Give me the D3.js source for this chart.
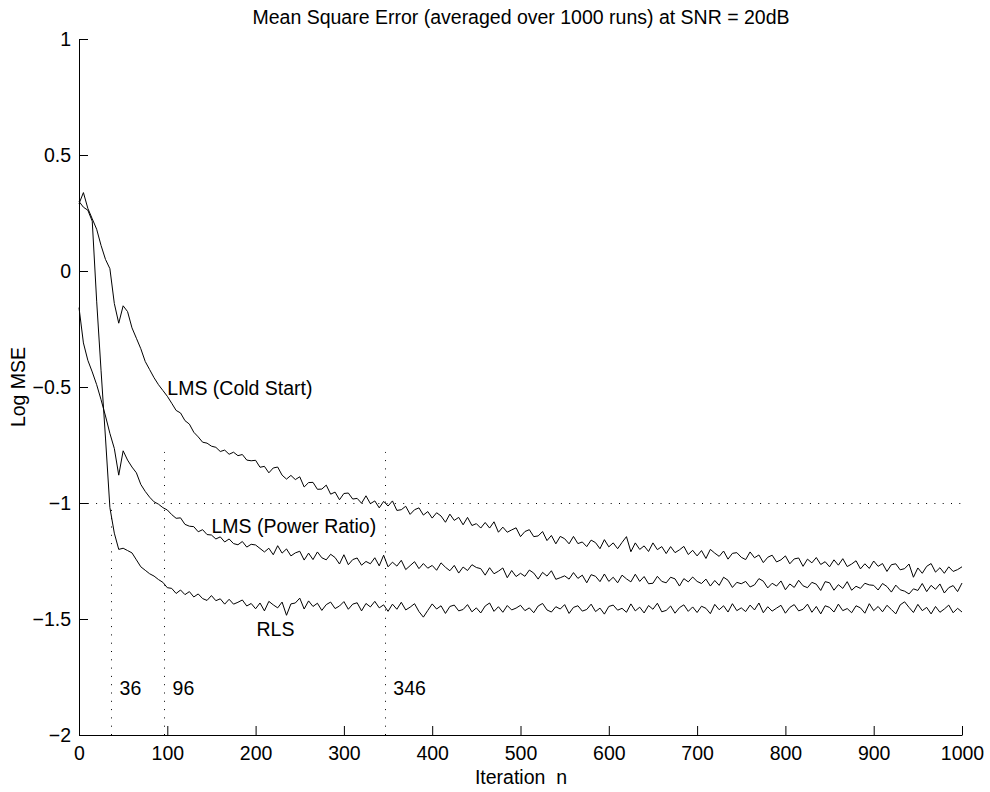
<!DOCTYPE html>
<html>
<head>
<meta charset="utf-8">
<script src="https://cdn.jsdelivr.net/npm/d3@7"></script>
<style>
	body { margin: 0; background: #fff; }
	svg { display: block; font-family: "Liberation Sans", Arial, Helvetica, sans-serif; }
	.axis path, .axis line { stroke: #000; stroke-width: 1; }
	.axis text { font-family: "Liberation Sans", Arial, Helvetica, sans-serif; font-size: 19.5px; fill: #000; }
	.curve { fill: none; stroke: #000; stroke-width: 1; stroke-linejoin: round; }
	.guide { stroke: #000; stroke-width: 1; stroke-dasharray: 1 7.3; }
	.label { font-size: 19.5px; fill: #000; }
</style>
</head>
<body>
<div id="chart"></div>
<script>
//Iteration grid: every 5th iteration, 0..1000
const iterations = d3.range(0, 1001, 5);

//Log MSE, one value per grid point
const mseLmsCold = [
	0.290, 0.338, 0.270, 0.225, 0.180, 0.110, 0.050, 0.010, -0.140, -0.225,
	-0.150, -0.175, -0.245, -0.290, -0.335, -0.390, -0.425, -0.460, -0.490, -0.515,
	-0.540, -0.570, -0.601, -0.612, -0.645, -0.660, -0.695, -0.715, -0.738, -0.742,
	-0.755, -0.760, -0.778, -0.772, -0.790, -0.781, -0.796, -0.791, -0.815, -0.818,
	-0.816, -0.846, -0.842, -0.870, -0.849, -0.845, -0.880, -0.897, -0.881, -0.899,
	-0.887, -0.931, -0.912, -0.911, -0.941, -0.940, -0.923, -0.962, -0.953, -0.986,
	-0.959, -0.957, -0.983, -0.980, -1.001, -0.969, -1.003, -0.991, -1.021, -0.993,
	-1.013, -0.991, -1.032, -1.029, -1.014, -1.049, -1.029, -1.021, -1.052, -1.037,
	-1.065, -1.042, -1.056, -1.083, -1.048, -1.075, -1.062, -1.094, -1.062, -1.097,
	-1.089, -1.108, -1.084, -1.108, -1.081, -1.126, -1.104, -1.126, -1.116, -1.107,
	-1.145, -1.123, -1.115, -1.145, -1.142, -1.123, -1.162, -1.140, -1.176, -1.144,
	-1.154, -1.176, -1.144, -1.175, -1.168, -1.188, -1.160, -1.171, -1.197, -1.158,
	-1.189, -1.172, -1.197, -1.170, -1.145, -1.210, -1.172, -1.200, -1.185, -1.209,
	-1.172, -1.201, -1.188, -1.218, -1.188, -1.214, -1.202, -1.187, -1.222, -1.204,
	-1.228, -1.205, -1.239, -1.200, -1.216, -1.230, -1.207, -1.242, -1.217, -1.214,
	-1.234, -1.244, -1.211, -1.236, -1.224, -1.257, -1.234, -1.225, -1.254, -1.245,
	-1.228, -1.262, -1.241, -1.237, -1.273, -1.242, -1.258, -1.235, -1.265, -1.253,
	-1.275, -1.245, -1.268, -1.240, -1.274, -1.263, -1.249, -1.284, -1.262, -1.282,
	-1.250, -1.273, -1.261, -1.295, -1.266, -1.262, -1.288, -1.283, -1.263, -1.320,
	-1.280, -1.303, -1.273, -1.261, -1.298, -1.279, -1.303, -1.275, -1.295, -1.287,
	-1.275
];

const mseLmsPower = [
	-0.158, -0.310, -0.385, -0.435, -0.490, -0.555, -0.625, -0.700, -0.765, -0.880,
	-0.775, -0.815, -0.845, -0.870, -0.920, -0.950, -0.975, -0.995, -1.005, -1.020,
	-1.030, -1.050, -1.066, -1.064, -1.092, -1.100, -1.102, -1.124, -1.115, -1.136,
	-1.138, -1.155, -1.146, -1.168, -1.155, -1.175, -1.180, -1.166, -1.190, -1.178,
	-1.181, -1.196, -1.211, -1.195, -1.223, -1.184, -1.216, -1.198, -1.228, -1.215,
	-1.208, -1.246, -1.216, -1.244, -1.211, -1.236, -1.245, -1.221, -1.235, -1.263,
	-1.223, -1.266, -1.244, -1.237, -1.268, -1.252, -1.262, -1.236, -1.271, -1.225,
	-1.275, -1.255, -1.272, -1.247, -1.287, -1.270, -1.253, -1.283, -1.261, -1.281,
	-1.269, -1.290, -1.258, -1.277, -1.292, -1.269, -1.302, -1.276, -1.291, -1.266,
	-1.278, -1.283, -1.311, -1.279, -1.305, -1.294, -1.280, -1.322, -1.291, -1.317,
	-1.303, -1.316, -1.289, -1.302, -1.328, -1.299, -1.315, -1.292, -1.329, -1.322,
	-1.314, -1.328, -1.300, -1.325, -1.311, -1.344, -1.309, -1.316, -1.339, -1.306,
	-1.338, -1.320, -1.344, -1.311, -1.327, -1.340, -1.307, -1.338, -1.317, -1.348,
	-1.346, -1.316, -1.338, -1.344, -1.320, -1.327, -1.358, -1.326, -1.340, -1.319,
	-1.338, -1.347, -1.328, -1.358, -1.334, -1.355, -1.320, -1.333, -1.364, -1.342,
	-1.348, -1.338, -1.362, -1.353, -1.326, -1.337, -1.366, -1.346, -1.358, -1.336,
	-1.374, -1.349, -1.364, -1.333, -1.357, -1.365, -1.342, -1.350, -1.377, -1.339,
	-1.344, -1.376, -1.352, -1.368, -1.339, -1.376, -1.359, -1.368, -1.346, -1.353,
	-1.355, -1.375, -1.347, -1.360, -1.384, -1.354, -1.374, -1.380, -1.392, -1.370,
	-1.377, -1.347, -1.382, -1.355, -1.372, -1.349, -1.388, -1.365, -1.356, -1.382,
	-1.345
];

const mseRls = [
	0.300, 0.275, 0.262, 0.215, -0.130, -0.430, -0.720, -1.020, -1.130, -1.200,
	-1.195, -1.205, -1.215, -1.245, -1.275, -1.290, -1.305, -1.315, -1.330, -1.342,
	-1.365, -1.368, -1.390, -1.375, -1.395, -1.382, -1.405, -1.392, -1.412, -1.420,
	-1.399, -1.421, -1.413, -1.436, -1.415, -1.436, -1.428, -1.418, -1.444, -1.433,
	-1.456, -1.431, -1.465, -1.424, -1.439, -1.452, -1.427, -1.484, -1.435, -1.431,
	-1.410, -1.457, -1.422, -1.446, -1.432, -1.463, -1.438, -1.427, -1.455, -1.444,
	-1.425, -1.458, -1.436, -1.430, -1.465, -1.433, -1.448, -1.424, -1.452, -1.439,
	-1.467, -1.436, -1.458, -1.428, -1.461, -1.449, -1.434, -1.468, -1.492, -1.463,
	-1.435, -1.457, -1.443, -1.476, -1.446, -1.440, -1.465, -1.459, -1.438, -1.469,
	-1.452, -1.474, -1.444, -1.431, -1.467, -1.447, -1.471, -1.442, -1.461, -1.453,
	-1.441, -1.464, -1.452, -1.473, -1.444, -1.433, -1.461, -1.470, -1.447, -1.457,
	-1.438, -1.476, -1.450, -1.443, -1.466, -1.459, -1.436, -1.468, -1.453, -1.479,
	-1.446, -1.440, -1.462, -1.454, -1.471, -1.435, -1.465, -1.449, -1.474, -1.442,
	-1.458, -1.432, -1.469, -1.463, -1.444, -1.475, -1.451, -1.439, -1.467, -1.448,
	-1.472, -1.445, -1.454, -1.477, -1.437, -1.460, -1.443, -1.470, -1.434, -1.464,
	-1.452, -1.468, -1.440, -1.461, -1.431, -1.473, -1.447, -1.466, -1.453, -1.441,
	-1.475, -1.450, -1.438, -1.465, -1.458, -1.436, -1.471, -1.446, -1.478, -1.443,
	-1.450, -1.470, -1.436, -1.464, -1.455, -1.473, -1.443, -1.452, -1.475, -1.434,
	-1.464, -1.446, -1.469, -1.441, -1.459, -1.478, -1.439, -1.426, -1.450, -1.472,
	-1.437, -1.464, -1.450, -1.478, -1.446, -1.471, -1.457, -1.440, -1.473, -1.454,
	-1.470
];

const curveNames = ['LMS (Cold Start)', 'LMS (Power Ratio)', 'RLS'];

//Where each curve first reaches the -1 level
const threshold = -1;
const crossIters = [36, 96, 346];
const crossTops = [-1, -0.78, -0.78];

const xTicks = [0, 100, 200, 300, 400, 500, 600, 700, 800, 900, 1000];
const yTicks = [-2, -1.5, -1, -0.5, 0, 0.5, 1];

const titleText = 'Mean Square Error (averaged over 1000 runs) at SNR = 20dB';
const xLabelText = 'Iteration  n';
const yLabelText = 'Log MSE';

//Layout
const width = 990;
const height = 792;
const plotL = 79, plotR = 962, plotT = 39, plotB = 735;

const svg = d3.select('#chart')
	.append('svg')
	.attr('width', width)
	.attr('height', height);

const scaleX = d3.scaleLinear().domain([0, 1000]).range([plotL, plotR]);
const scaleY = d3.scaleLinear().domain([-2, 1]).range([plotB, plotT]);

//Dotted guides
svg.append('line')
	.attr('class', 'guide')
	.attr('x1', scaleX(0) + 0.5)
	.attr('x2', scaleX(1000) + 0.5)
	.attr('y1', Math.round(scaleY(threshold)) + 0.5)
	.attr('y2', Math.round(scaleY(threshold)) + 0.5);

svg.selectAll('.guide-v')
	.data(crossIters)
	.enter()
	.append('line')
	.attr('class', 'guide guide-v')
	.attr('x1', d => Math.round(scaleX(d)) + 0.5)
	.attr('x2', d => Math.round(scaleX(d)) + 0.5)
	.attr('y1', scaleY(-2))
	.attr('y2', (d, i) => scaleY(crossTops[i]));

svg.selectAll('.cross-label')
	.data(crossIters)
	.enter()
	.append('text')
	.attr('class', 'label cross-label')
	.attr('x', d => scaleX(d + 10))
	.attr('y', scaleY(-1.8))
	.attr('dy', '0.35em')
	.text(d => d);

//Curves
const line = d3.line()
	.x((d, i) => scaleX(iterations[i]))
	.y(d => scaleY(d));

svg.selectAll('.curve')
	.data([mseLmsCold, mseLmsPower, mseRls])
	.enter()
	.append('path')
	.attr('class', 'curve')
	.attr('d', line);

//Curve labels, anchored in data units
const labelAnchors = [[100, -0.505], [150, -1.10], [201, -1.545]];
svg.selectAll('.curve-label')
	.data(curveNames)
	.enter()
	.append('text')
	.attr('class', 'label curve-label')
	.attr('x', (d, i) => scaleX(labelAnchors[i][0]))
	.attr('y', (d, i) => scaleY(labelAnchors[i][1]))
	.attr('dy', '0.35em')
	.text(d => d);

//Axes
const axisX = d3.axisBottom(scaleX)
	.tickValues(xTicks)
	.tickFormat(d3.format(''))
	.tickSizeInner(-9)
	.tickSizeOuter(0)
	.tickPadding(11);

const axisY = d3.axisLeft(scaleY)
	.tickValues(yTicks)
	.tickFormat(d3.format(''))
	.tickSizeInner(-9)
	.tickSizeOuter(0)
	.tickPadding(8);

svg.append('g')
	.attr('class', 'axis axis-x')
	.attr('transform', `translate(0,${plotB})`)
	.call(axisX);

svg.append('g')
	.attr('class', 'axis axis-y')
	.attr('transform', `translate(${plotL},0)`)
	.call(axisY);

svg.selectAll('.axis').attr('font-size', null).attr('font-family', null);

//Title and axis labels
const midX = (plotL + plotR) / 2 + 0.5;

svg.append('text')
	.attr('class', 'label')
	.attr('x', midX)
	.attr('y', 24)
	.attr('text-anchor', 'middle')
	.text(titleText);

svg.append('text')
	.attr('class', 'label')
	.attr('x', midX)
	.attr('y', 784)
	.attr('text-anchor', 'middle')
	.style('white-space', 'pre')
	.text(xLabelText);

svg.append('text')
	.attr('class', 'label')
	.attr('transform', `translate(25,${(plotT + plotB) / 2})rotate(-90)`)
	.attr('text-anchor', 'middle')
	.text(yLabelText);
</script>
</body>
</html>
